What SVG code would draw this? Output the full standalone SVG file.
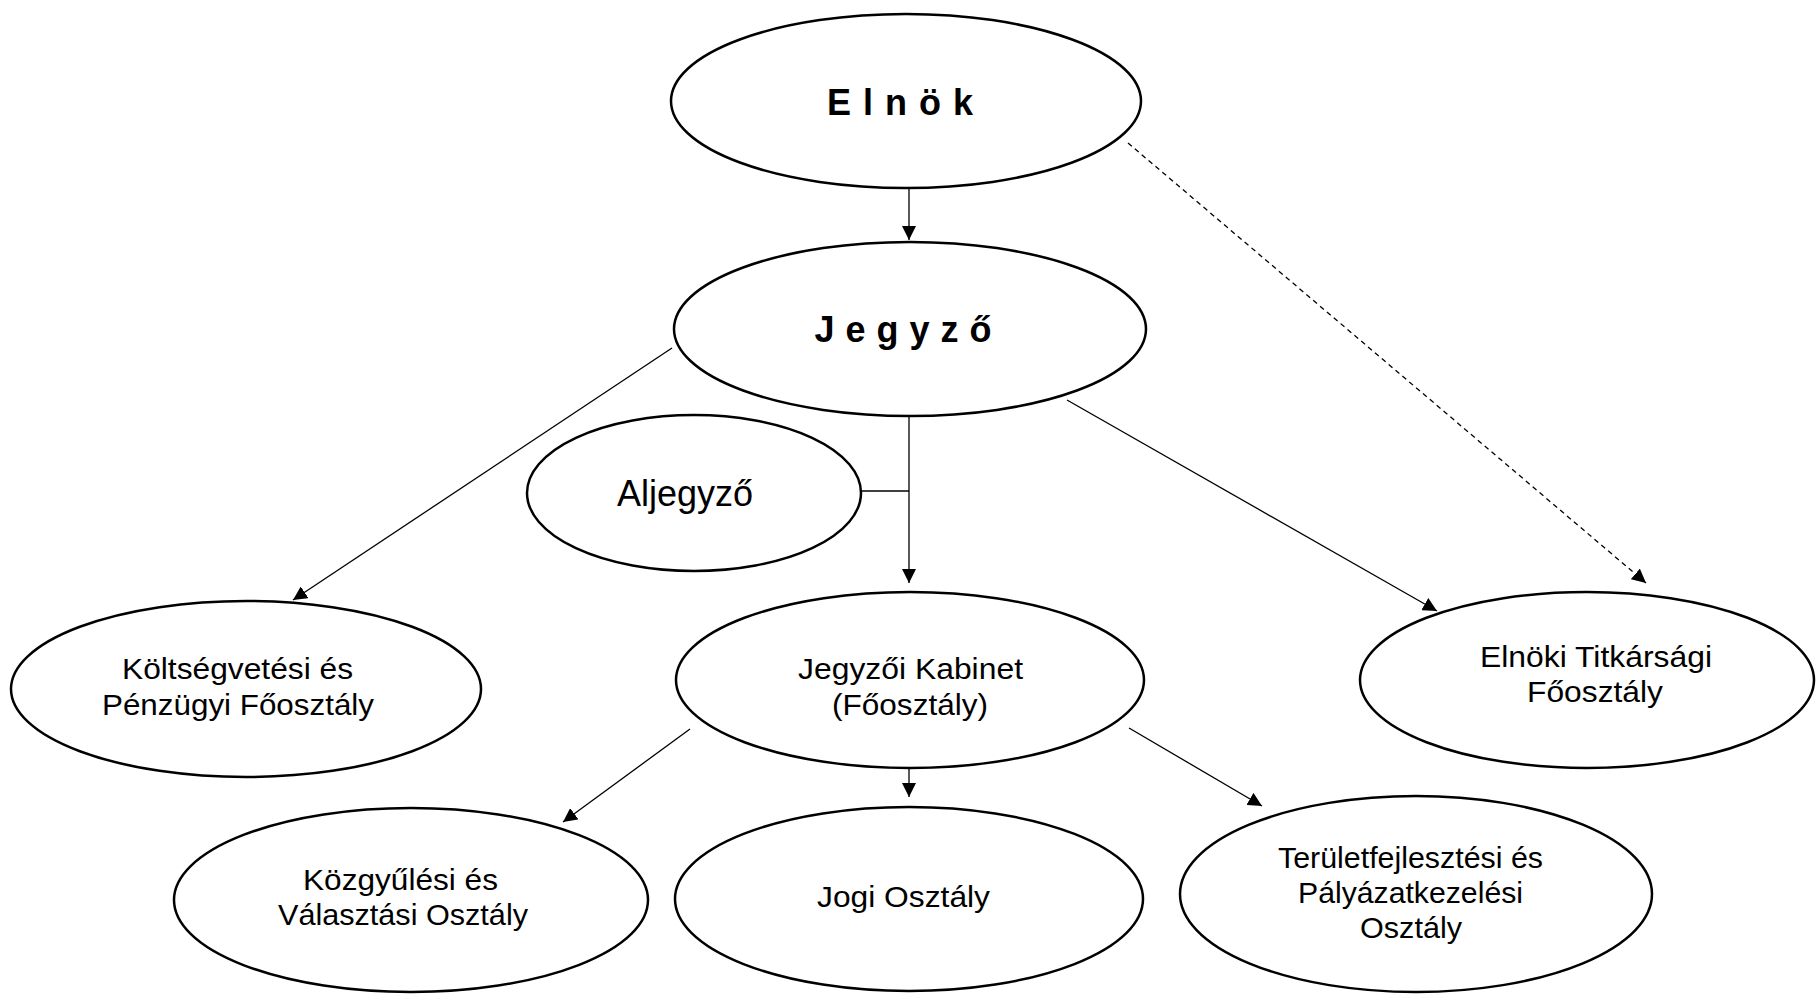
<svg xmlns="http://www.w3.org/2000/svg" width="1816" height="994" viewBox="0 0 1816 994">
<style>
.node ellipse{fill:#fff;stroke:#000;stroke-width:2.5}
.t{font-family:"Liberation Sans",Arial,sans-serif;font-size:29px;fill:#000;text-anchor:middle}
.big{font-family:"Liberation Sans",Arial,sans-serif;font-size:36px;font-weight:bold;fill:#000;text-anchor:middle}
.al{font-family:"Liberation Sans",Arial,sans-serif;font-size:36px;fill:#000;text-anchor:middle}
.c line,.c path{stroke:#000;stroke-width:1.3;fill:none}
.c .dash{stroke-dasharray:5 4}
</style>
<defs>
<marker id="ah" viewBox="0 0 14 14" refX="14" refY="7" markerWidth="14" markerHeight="14" markerUnits="userSpaceOnUse" orient="auto">
<path d="M0,0 L14,7 L0,14 z" fill="#000"/>
</marker>
</defs>
<g id="connectors" class="c">
<line x1="909" y1="188" x2="909" y2="240" marker-end="url(#ah)"/>
<line x1="672" y1="348" x2="293" y2="600" marker-end="url(#ah)"/>
<line x1="1067" y1="400" x2="1437" y2="611" marker-end="url(#ah)"/>
<line class="dash" x1="1128" y1="143" x2="1646" y2="583" marker-end="url(#ah)"/>
<line x1="909" y1="416" x2="909" y2="583" marker-end="url(#ah)"/>
<line x1="862" y1="491" x2="909" y2="491"/>
<line x1="690" y1="729" x2="563" y2="822" marker-end="url(#ah)"/>
<line x1="909" y1="769" x2="909" y2="797" marker-end="url(#ah)"/>
<line x1="1129" y1="728" x2="1262" y2="806" marker-end="url(#ah)"/>
</g>
<g id="elnok" class="node">
<ellipse cx="906" cy="101" rx="235" ry="87"/>
<text class="big" x="900" y="115" textLength="146" lengthAdjust="spacing">E l n ö k</text>
</g>
<g id="jegyzo" class="node">
<ellipse cx="910" cy="329" rx="236" ry="87"/>
<text class="big" x="903" y="342" textLength="177" lengthAdjust="spacing">J e g y z ő</text>
</g>
<g id="aljegyzo" class="node">
<ellipse cx="694" cy="493" rx="167" ry="78"/>
<text class="al" x="685" y="506">Aljegyző</text>
</g>
<g id="koltsegvetesi" class="node">
<ellipse cx="246" cy="689" rx="235" ry="88"/>
<text class="t" x="237.5" y="679" textLength="231" lengthAdjust="spacingAndGlyphs">Költségvetési és</text>
<text class="t" x="238" y="715" textLength="272" lengthAdjust="spacingAndGlyphs">Pénzügyi Főosztály</text>
</g>
<g id="kabinet" class="node">
<ellipse cx="910" cy="680" rx="234" ry="88"/>
<text class="t" x="910.5" y="679" textLength="225" lengthAdjust="spacingAndGlyphs">Jegyzői Kabinet</text>
<text class="t" x="910" y="715" textLength="156" lengthAdjust="spacingAndGlyphs">(Főosztály)</text>
</g>
<g id="elnoki-titkarsagi" class="node">
<ellipse cx="1587" cy="680" rx="227" ry="88"/>
<text class="t" x="1596" y="667" textLength="232" lengthAdjust="spacingAndGlyphs">Elnöki Titkársági</text>
<text class="t" x="1595" y="702" textLength="136" lengthAdjust="spacingAndGlyphs">Főosztály</text>
</g>
<g id="kozgyulesi" class="node">
<ellipse cx="411" cy="900" rx="237" ry="92"/>
<text class="t" x="400.5" y="890" textLength="195" lengthAdjust="spacingAndGlyphs">Közgyűlési és</text>
<text class="t" x="403" y="925" textLength="250" lengthAdjust="spacingAndGlyphs">Választási Osztály</text>
</g>
<g id="jogi" class="node">
<ellipse cx="909" cy="899" rx="234" ry="92"/>
<text class="t" x="903.5" y="907" textLength="173" lengthAdjust="spacingAndGlyphs">Jogi Osztály</text>
</g>
<g id="teruletfejlesztesi" class="node">
<ellipse cx="1416" cy="894" rx="236" ry="98"/>
<text class="t" x="1410.5" y="868" textLength="265" lengthAdjust="spacingAndGlyphs">Területfejlesztési és</text>
<text class="t" x="1410.5" y="903" textLength="225" lengthAdjust="spacingAndGlyphs">Pályázatkezelési</text>
<text class="t" x="1411" y="938" textLength="102" lengthAdjust="spacingAndGlyphs">Osztály</text>
</g>
</svg>
